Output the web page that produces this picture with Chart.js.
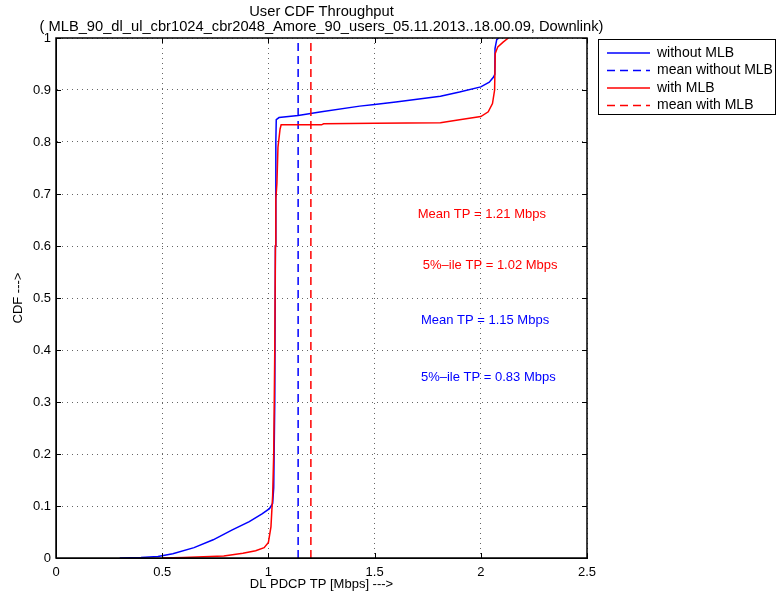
<!DOCTYPE html>
<html>
<head>
<meta charset="utf-8">
<script src="https://cdn.jsdelivr.net/npm/chart.js@4/dist/chart.umd.min.js"></script>
<style>
  body { margin: 0; background: #fff; }
</style>
</head>
<body>
<canvas id="cdfChart" width="776" height="595"></canvas>
<script>
// CDF without MLB
const xWithout = [0.30, 0.40, 0.48, 0.55, 0.65, 0.74, 0.83, 0.91, 0.97, 1.005, 1.02, 1.025, 1.03, 1.033, 1.035, 1.037, 1.05, 1.14, 1.25, 1.43, 1.5, 1.6, 1.7, 1.81, 1.9, 2.0, 2.04, 2.06, 2.066, 2.067, 2.075, 2.085];
const yWithout = [0, 0.001, 0.003, 0.008, 0.02, 0.035, 0.054, 0.07, 0.085, 0.095, 0.105, 0.135, 0.30, 0.60, 0.80, 0.843, 0.847, 0.851, 0.858, 0.869, 0.872, 0.877, 0.882, 0.888, 0.896, 0.906, 0.915, 0.925, 0.93, 0.98, 0.997, 1.0];

// CDF with MLB
const xWith = [0.50, 0.60, 0.79, 0.88, 0.94, 0.98, 1.0, 1.012, 1.02, 1.025, 1.03, 1.033, 1.035, 1.04, 1.045, 1.055, 1.06, 1.25, 1.26, 1.5, 1.81, 1.9, 2.0, 2.035, 2.055, 2.065, 2.068, 2.08, 2.105, 2.13];
const yWith = [0, 0.001, 0.004, 0.009, 0.014, 0.02, 0.03, 0.06, 0.12, 0.2, 0.4, 0.6, 0.69, 0.72, 0.79, 0.825, 0.833, 0.833, 0.835, 0.836, 0.837, 0.843, 0.849, 0.858, 0.874, 0.9, 0.97, 0.983, 0.992, 1.0];

// mean lines
const meanWithout = 1.14;
const meanWith = 1.20;

const seriesLabels = ['without MLB', 'mean without MLB', 'with MLB', 'mean with MLB'];

// text annotations
const noteTexts = ['Mean TP = 1.21 Mbps', '5%\u2013ile TP = 1.02 Mbps', 'Mean TP = 1.15 Mbps', '5%\u2013ile TP = 0.83 Mbps'];
const noteX = [1.703, 1.727, 1.718, 1.718];
const noteY = [0.66, 0.563, 0.456, 0.348];
const noteColors = ['#ff0000', '#ff0000', '#0000ff', '#0000ff'];

const FONT = '"Liberation Sans", Arial, Helvetica, sans-serif';

function pts(xs, ys) {
  return xs.map((x, i) => ({ x: x, y: ys[i] }));
}

// "1.0" -> "1", "0.50" -> "0.5"
const fmtTick = v => String(+Number(v).toFixed(2));

// box, inward ticks, titles, notes and legend in matlab style
const matlabPlugin = {
  id: 'matlab',
  afterDraw(chart) {
    const { ctx, chartArea: a, scales } = chart;
    const xs = scales.x, ys = scales.y;
    ctx.save();
    // inward ticks
    ctx.strokeStyle = '#000';
    ctx.lineWidth = 1;
    ctx.beginPath();
    xs.ticks.forEach(t => {
      const px = Math.round(xs.getPixelForValue(t.value)) + 0.5;
      ctx.moveTo(px, a.bottom); ctx.lineTo(px, a.bottom - 5);
      ctx.moveTo(px, a.top); ctx.lineTo(px, a.top + 5);
    });
    ys.ticks.forEach(t => {
      const py = Math.round(ys.getPixelForValue(t.value)) + 0.5;
      ctx.moveTo(a.left, py); ctx.lineTo(a.left + 5, py);
      ctx.moveTo(a.right, py); ctx.lineTo(a.right - 5, py);
    });
    ctx.stroke();
    // box
    ctx.lineWidth = 1.5;
    ctx.strokeRect(a.left, a.top, a.right - a.left, a.bottom - a.top);

    // title
    ctx.fillStyle = '#000';
    ctx.font = '14.7px ' + FONT;
    ctx.textAlign = 'center';
    ctx.textBaseline = 'middle';
    const cx = (a.left + a.right) / 2;
    ctx.fillText('User CDF Throughput', cx, 12);
    ctx.fillText('( MLB_90_dl_ul_cbr1024_cbr2048_Amore_90_users_05.11.2013..18.00.09, Downlink)', cx, 27);

    // notes
    ctx.font = '13px ' + FONT;
    ctx.textAlign = 'left';
    noteTexts.forEach((txt, i) => {
      ctx.fillStyle = noteColors[i];
      ctx.fillText(txt, xs.getPixelForValue(noteX[i]), ys.getPixelForValue(noteY[i]));
    });

    // legend
    const lx = 598, ly = 39, lw = 177, lh = 75;
    ctx.fillStyle = '#fff';
    ctx.fillRect(lx, ly, lw, lh);
    ctx.strokeStyle = '#000';
    ctx.lineWidth = 1;
    ctx.strokeRect(lx + 0.5, ly + 0.5, lw, lh);
    ctx.font = '14px ' + FONT;
    chart.data.datasets.forEach((ds, i) => {
      const ry = 53 + i * 17.5;
      ctx.strokeStyle = ds.borderColor;
      ctx.lineWidth = 1.5;
      ctx.setLineDash(ds.borderDash || []);
      ctx.beginPath();
      ctx.moveTo(607, ry); ctx.lineTo(650, ry);
      ctx.stroke();
      ctx.setLineDash([]);
      ctx.fillStyle = '#000';
      ctx.fillText(ds.label, 657, ry);
    });
    ctx.restore();
  }
};

const ctx = document.getElementById('cdfChart');
new Chart(ctx, {
  type: 'scatter',
  data: {
    datasets: [
      { label: seriesLabels[0], data: pts(xWithout, yWithout), borderColor: '#0000ff', order: 4 },
      { label: seriesLabels[1], data: [{ x: meanWithout, y: 0 }, { x: meanWithout, y: 1 }], borderColor: '#0000ff', borderDash: [8, 5], order: 3 },
      { label: seriesLabels[2], data: pts(xWith, yWith), borderColor: '#ff0000', order: 2 },
      { label: seriesLabels[3], data: [{ x: meanWith, y: 0 }, { x: meanWith, y: 1 }], borderColor: '#ff0000', borderDash: [8, 5], order: 1 }
    ].map(ds => Object.assign({ showLine: true, pointRadius: 0, borderWidth: 1.5, fill: false, tension: 0 }, ds))
  },
  options: {
    responsive: false,
    animation: false,
    layout: { padding: { top: 38, right: 189, left: 0, bottom: 0 } },
    plugins: {
      legend: { display: false },
      tooltip: { enabled: false },
      title: { display: false }
    },
    scales: {
      x: {
        type: 'linear', min: 0, max: 2.5,
        ticks: { stepSize: 0.5, padding: 7, color: '#000', font: { family: FONT, size: 13 }, callback: fmtTick },
        grid: { color: 'rgba(0,0,0,0.6)', drawTicks: false },
        border: { color: '#000', dash: [1, 4] },
        title: { display: true, text: 'DL PDCP TP [Mbps] --->', color: '#000', font: { family: FONT, size: 13 }, padding: { top: 0, bottom: 3 } },
        afterFit(s) { s.height = 37; }
      },
      y: {
        type: 'linear', min: 0, max: 1,
        ticks: { stepSize: 0.1, padding: 5, color: '#000', font: { family: FONT, size: 13 }, callback: fmtTick },
        grid: { color: 'rgba(0,0,0,0.6)', drawTicks: false },
        border: { color: '#000', dash: [1, 4] },
        title: { display: true, text: 'CDF --->', color: '#000', font: { family: FONT, size: 13 }, padding: { top: 11, bottom: 0 } },
        afterFit(s) { s.width = 56; }
      }
    }
  },
  plugins: [matlabPlugin]
});
</script>
</body>
</html>
